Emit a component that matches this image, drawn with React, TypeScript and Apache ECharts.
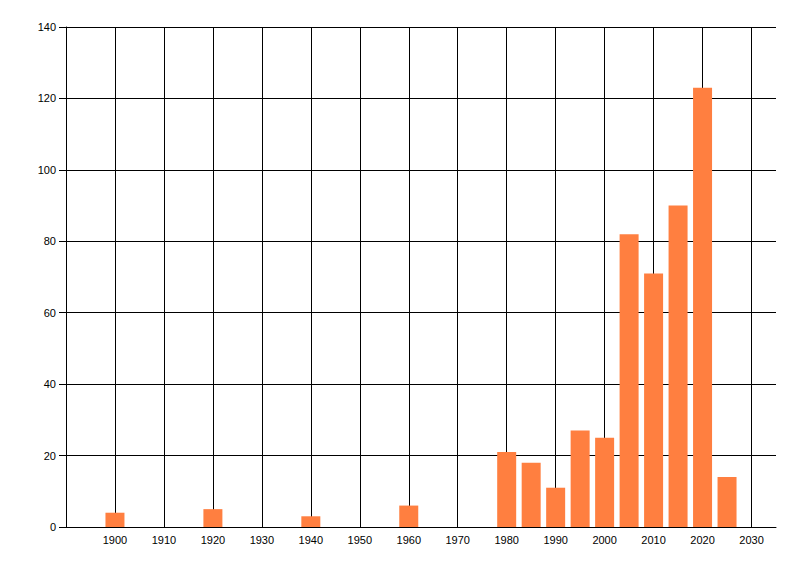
import React, { useEffect, useRef } from "react";
import * as echarts from "echarts";

const years = [1900, 1920, 1940, 1960, 1980, 1985, 1990, 1995, 2000, 2005, 2010, 2015, 2020, 2025];
const counts = [4, 5, 3, 6, 21, 18, 11, 27, 25, 82, 71, 90, 123, 14];

export default function App() {
  const ref = useRef<HTMLDivElement>(null);
  useEffect(() => {
    document.body.style.margin = "0";
    const chart = echarts.init(ref.current!, null, { renderer: "svg" });
    const font = "Liberation Sans, Arial, sans-serif";
    chart.setOption({
      animation: false,
      backgroundColor: "#ffffff",
      grid: { left: 66, right: 24, top: 27, bottom: 49, containLabel: false },
      xAxis: {
        type: "value",
        min: 1890,
        max: 2035,
        interval: 10,
        axisLine: { show: true, onZero: false, lineStyle: { color: "#000", width: 1 } },
        axisTick: { show: false },
        axisLabel: {
          color: "#000",
          fontSize: 11,
          fontFamily: font,
          margin: 7,
          showMinLabel: false,
          showMaxLabel: false,
          formatter: (v: number) => String(v),
        },
        splitLine: { show: true, showMinLine: false, showMaxLine: false, lineStyle: { color: "#000", width: 1 } },
      },
      yAxis: {
        type: "value",
        min: 0,
        max: 140,
        interval: 20,
        axisLine: { show: true, lineStyle: { color: "#000", width: 1 } },
        axisTick: { show: true, length: 7, lineStyle: { color: "#000" } },
        axisLabel: { color: "#000", fontSize: 11, fontFamily: font, margin: 10 },
        splitLine: { show: true, lineStyle: { color: "#000", width: 1 } },
      },
      series: [
        {
          type: "bar",
          data: years.map((y, i) => [y, counts[i]]),
          barWidth: 19,
          itemStyle: { color: "#FF7F40" },
        },
      ],
    });
    return () => chart.dispose();
  }, []);
  return <div ref={ref} style={{ width: 800, height: 576 }} />;
}
